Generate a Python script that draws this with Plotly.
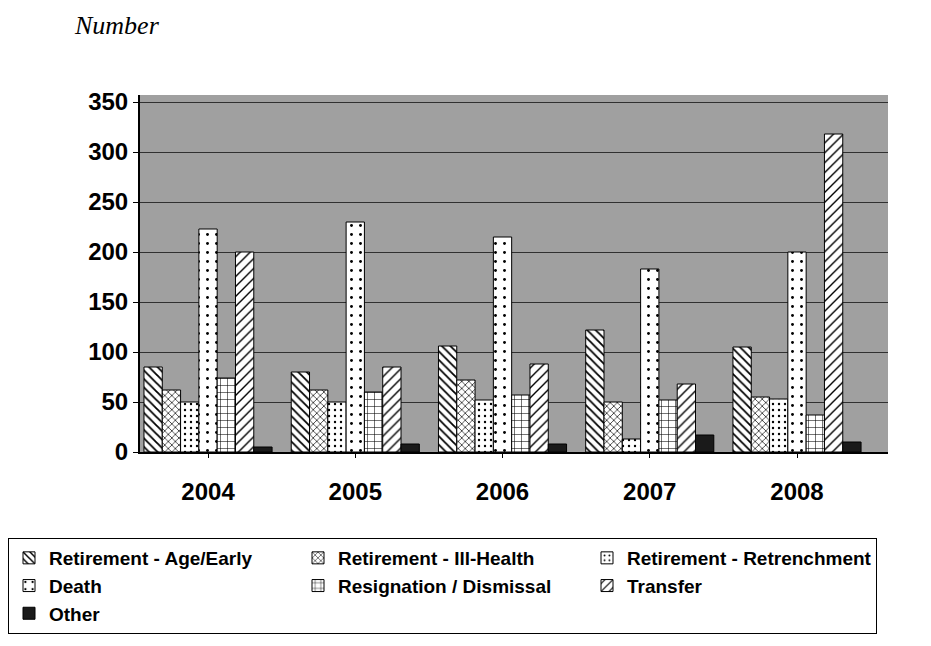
import plotly.graph_objects as go

years = ["2004", "2005", "2006", "2007", "2008"]
series_names = [
    "Retirement - Age/Early",
    "Retirement - Ill-Health",
    "Retirement - Retrenchment",
    "Death",
    "Resignation / Dismissal",
    "Transfer",
    "Other",
]
age_early = [85, 80, 106, 122, 105]
ill_health = [62, 62, 72, 50, 55]
retrenchment = [50, 50, 52, 13, 53]
death = [223, 230, 215, 183, 200]
resignation = [74, 60, 57, 52, 37]
transfer = [200, 85, 88, 68, 318]
other = [5, 8, 8, 17, 10]
y_ticks = [0, 50, 100, 150, 200, 250, 300, 350]

values = [age_early, ill_health, retrenchment, death, resignation, transfer, other]
patterns = [
    dict(shape="\\", size=6, solidity=0.3),
    dict(shape="x", size=5, solidity=0.25),
    dict(shape=".", size=6, solidity=0.12),
    dict(shape=".", size=9, solidity=0.08),
    dict(shape="+", size=7, solidity=0.15),
    dict(shape="/", size=7, solidity=0.2),
    dict(shape="", size=6, solidity=0.3),
]
fills = ["white", "white", "white", "white", "white", "white", "#1a1a1a"]

# page body margin shifts the figure by 8px; plot area placement compensates
L, R, T, B = 132, 51, 87, 202
PW, PH = 931 - L - R, 646 - T - B

fig = go.Figure()
for name, vals, pat, fc in zip(series_names, values, patterns, fills):
    p = dict(pat)
    if p["shape"]:
        p.update(fgcolor="black", bgcolor="white", fillmode="replace")
    fig.add_trace(go.Bar(
        x=years, y=vals, name=name,
        marker=dict(color=fc, line=dict(color="black", width=1), pattern=p),
    ))

fig.update_layout(
    width=931, height=646,
    margin=dict(l=L, r=R, t=T, b=B, autoexpand=False),
    paper_bgcolor="white",
    plot_bgcolor="#a0a0a0",
    barmode="group",
    bargap=0.13,
    bargroupgap=0,
    showlegend=True,
    legend=dict(
        orientation="h",
        x=(0 - L) / PW, xanchor="left",
        y=(444 - 530) / PH, yanchor="top",
        entrywidth=244, entrywidthmode="pixels",
        font=dict(family="Liberation Sans, Arial", size=19, color="black", weight="bold"),
        bordercolor="black", borderwidth=1,
        bgcolor="white",
        traceorder="normal",
        itemwidth=30,
    ),
)
fig.add_annotation(
    text="<i>Number</i>", xref="paper", yref="paper",
    x=(64 - L) / PW, y=(444 - 17) / PH,
    xanchor="left", yanchor="middle", showarrow=False,
    font=dict(family="Liberation Serif, Times New Roman", size=26, color="black"),
)

fig.update_yaxes(
    range=[0, 357], tickvals=y_ticks, automargin=False,
    showgrid=True, gridcolor="#303030", gridwidth=1,
    showline=True, linecolor="black", linewidth=2,
    ticks="outside", ticklen=5, tickcolor="black",
    tickfont=dict(family="Liberation Sans, Arial", size=24, color="black", weight="bold"),
    zeroline=False,
)
fig.update_xaxes(
    type="category", automargin=False,
    range=[-0.462, 4.618],
    showline=True, linecolor="black", linewidth=2,
    ticks="outside", ticklen=4, tickcolor="black",
    tickfont=dict(family="Liberation Sans, Arial", size=24, color="black", weight="bold"),
    ticklabelstandoff=13,
)

fig.write_html("out.html")
